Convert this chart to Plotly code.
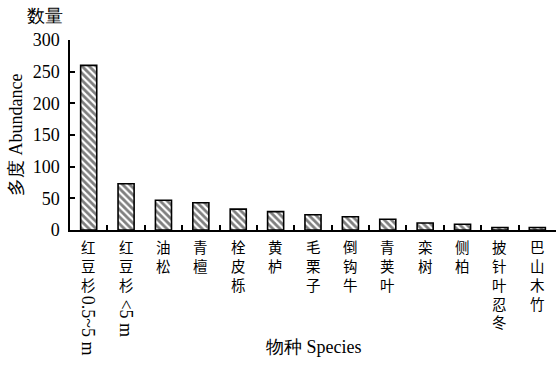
import plotly.graph_objects as go

# ---- data ----
categories = ["红豆杉0.5~5 m", "红豆杉<5 m", "油松", "青檀", "栓皮栎", "黄栌", "毛栗子",
              "倒钩牛", "青荚叶", "栾树", "侧柏", "披针叶忍冬", "巴山木竹"]
label_upright = ["红豆杉", "红豆杉", "油松", "青檀", "栓皮栎", "黄栌", "毛栗子",
                 "倒钩牛", "青荚叶", "栾树", "侧柏", "披针叶忍冬", "巴山木竹"]
label_rotated = ["0.5~5 m", "<5 m", "", "", "", "", "", "", "", "", "", "", ""]
abundance = [260, 73, 47, 43, 33, 29, 24, 21, 17, 11, 9, 4, 4]
y_ticks = [0, 50, 100, 150, 200, 250, 300]

LATIN = "Liberation Serif, Times New Roman, serif"
CJK = "Noto Sans CJK SC, Liberation Serif, serif"

fig = go.Figure()
fig.add_trace(go.Bar(
    x=categories, y=abundance,
    marker=dict(color="white",
                line=dict(color="black", width=1.6),
                pattern=dict(shape="\\", fgcolor="black", bgcolor="white",
                             size=5, solidity=0.55)),
    width=0.43,
))

# vertical (stacked) category labels
CJK_SIZE = 14.5
annotations = []
for cat, up, rot in zip(categories, label_upright, label_rotated):
    annotations.append(dict(
        x=cat, y=0, xref="x", yref="y", text="<br>".join(up), showarrow=False,
        xanchor="center", yanchor="top", yshift=-4,
        font=dict(family=CJK, size=CJK_SIZE, color="black")))
    if rot:
        start = 8 + len(up) * 18.5 + (0 if rot[0].isdigit() else 4)
        annotations.append(dict(
            x=cat, y=0, xref="x", yref="y", text=rot, showarrow=False,
            xanchor="center", yanchor="top", textangle=90,
            yshift=-start,
            font=dict(family=LATIN, size=18, color="black")))

annotations += [
    dict(x=0, y=0.5, xref="paper", yref="paper", text="多度 Abundance",
         textangle=-90, showarrow=False, xanchor="center", yanchor="middle",
         xshift=-54, font=dict(family=LATIN, size=18, color="black")),
    dict(x=0, y=1, xref="paper", yref="paper", text="数量", showarrow=False,
         xanchor="center", yanchor="middle", xshift=-25, yshift=24,
         font=dict(family=LATIN, size=18, color="black")),
    dict(x=0.5, y=0, xref="paper", yref="paper", text="物种 Species", showarrow=False,
         xanchor="center", yanchor="middle", yshift=-117,
         font=dict(family=LATIN, size=18, color="black")),
]

fig.update_layout(
    width=558, height=380,
    margin=dict(l=70, r=2, t=40, b=150),
    paper_bgcolor="white", plot_bgcolor="white",
    showlegend=False,
    annotations=annotations,
    font=dict(family=LATIN, size=18, color="black"),
)
fig.update_xaxes(
    type="category", showticklabels=False, showgrid=False,
    tickson="boundaries", ticks="inside", ticklen=5, tickwidth=1.5, tickcolor="black",
    showline=True, linecolor="black", linewidth=1.5, zeroline=False,
)
fig.update_yaxes(
    range=[0, 300], tickvals=y_ticks, ticks="inside", ticklen=5, tickwidth=1.5,
    tickcolor="black", showline=True, linecolor="black", linewidth=1.5,
    showgrid=False, zeroline=False, ticklabelstandoff=5,
    tickfont=dict(family=LATIN, size=18, color="black"),
)

fig.write_html("out.html", config={"displayModeBar": False},
               post_script="document.body.style.margin='0';")
